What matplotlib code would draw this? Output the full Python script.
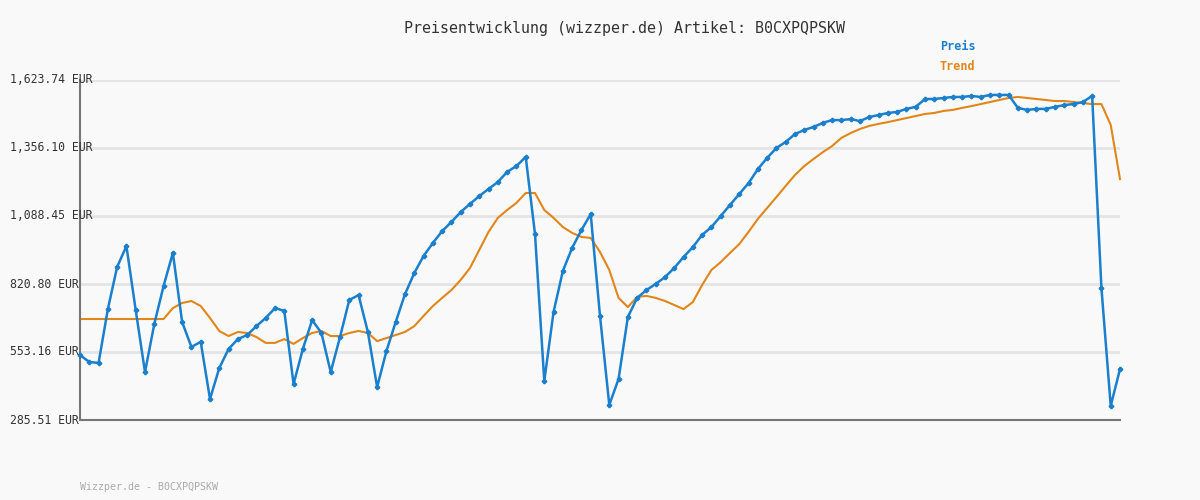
import matplotlib
matplotlib.use("Agg")
import matplotlib.pyplot as plt
import matplotlib.transforms as mtransforms

preis = [541,514,510,722,888,970,718,474,663,813,943,671,573,593,368,490,565,604,620,655,
         687,726,715,427,565,679,628,474,612,758,777,632,415,557,671,781,864,931,982,1029,
         1065,1104,1136,1167,1195,1222,1262,1285,1321,1018,439,711,872,963,1033,1096,695,345,447,691,
         766,797,821,848,884,927,966,1014,1045,1088,1132,1175,1218,1273,1317,1356,1380,1411,1427,1439,
         1455,1466,1466,1470,1462,1478,1486,1494,1498,1510,1518,1549,1549,1553,1557,1557,1561,1557,1565,1565,
         1565,1514,1506,1510,1510,1518,1525,1529,1537,1561,805,341,486]
trend = [683,683,683,683,683,683,683,683,683,683,726,746,754,734,687,636,616,632,628,612,
         589,589,604,585,608,628,636,616,616,628,636,628,596,608,620,632,655,695,734,766,
         797,837,884,955,1026,1081,1112,1140,1179,1179,1112,1081,1045,1022,1006,1002,947,876,766,730,
         770,774,766,754,738,722,750,817,876,907,943,978,1026,1077,1120,1163,1207,1250,1285,1313,
         1340,1364,1396,1415,1431,1443,1451,1458,1466,1474,1482,1490,1494,1502,1506,1514,1521,1529,1537,1545,
         1553,1557,1553,1549,1545,1541,1541,1537,1533,1529,1529,1447,1234]
yticks = [285.51, 553.16, 820.80, 1088.45, 1356.10, 1623.74]
ylabels = ["285.51 EUR", "553.16 EUR", "820.80 EUR", "1,088.45 EUR", "1,356.10 EUR", "1,623.74 EUR"]

BLUE = "#1a7fcc"
ORANGE = "#e0861a"
BG = "#f9f9f9"
plt.rcParams['font.family'] = ['DejaVu Sans Mono']

fig = plt.figure(figsize=(12, 5), dpi=100, facecolor=BG)
ax = fig.add_axes([80/1200, 80/500, 1040/1200, 340/500], facecolor=BG)
x = list(range(len(preis)))
ax.set_xlim(0, len(preis) - 1)
ax.set_ylim(yticks[0], yticks[-1])
for v in yticks[1:]:
    ax.axhline(v, color="#e4e4e4", lw=2, zorder=0)
ax.plot(x, trend, color=ORANGE, lw=1.5, zorder=2, clip_on=False)
ax.plot(x, preis, color=BLUE, lw=1.8, marker="P", ms=3, zorder=3, clip_on=False)
ax.set_xticks([]); ax.set_yticks([])
for s in ["top", "right"]:
    ax.spines[s].set_visible(False)
for s in ["left", "bottom"]:
    ax.spines[s].set_color("#777777"); ax.spines[s].set_linewidth(1.5)
tr = mtransforms.blended_transform_factory(fig.transFigure, ax.transData)
for v, l in zip(yticks, ylabels):
    fig.text(10/1200, v, l, transform=tr, ha="left", va="center", fontsize=8.3, color="#333333")
fig.text(624/1200, 1 - 28/500, "Preisentwicklung (wizzper.de) Artikel: B0CXPQPSKW",
         ha="center", va="center", fontsize=10.8, color="#333333")
fig.text(940/1200, 1 - 47/500, "Preis", color=BLUE, fontsize=8.5, fontweight="bold", va="center")
fig.text(940/1200, 1 - 67/500, "Trend", color=ORANGE, fontsize=8.5, fontweight="bold", va="center")
fig.text(80/1200, 1 - 487/500, "Wizzper.de - B0CXPQPSKW", color="#aaaaaa", fontsize=7.2, va="center")
fig.savefig("out.png", facecolor=BG)
